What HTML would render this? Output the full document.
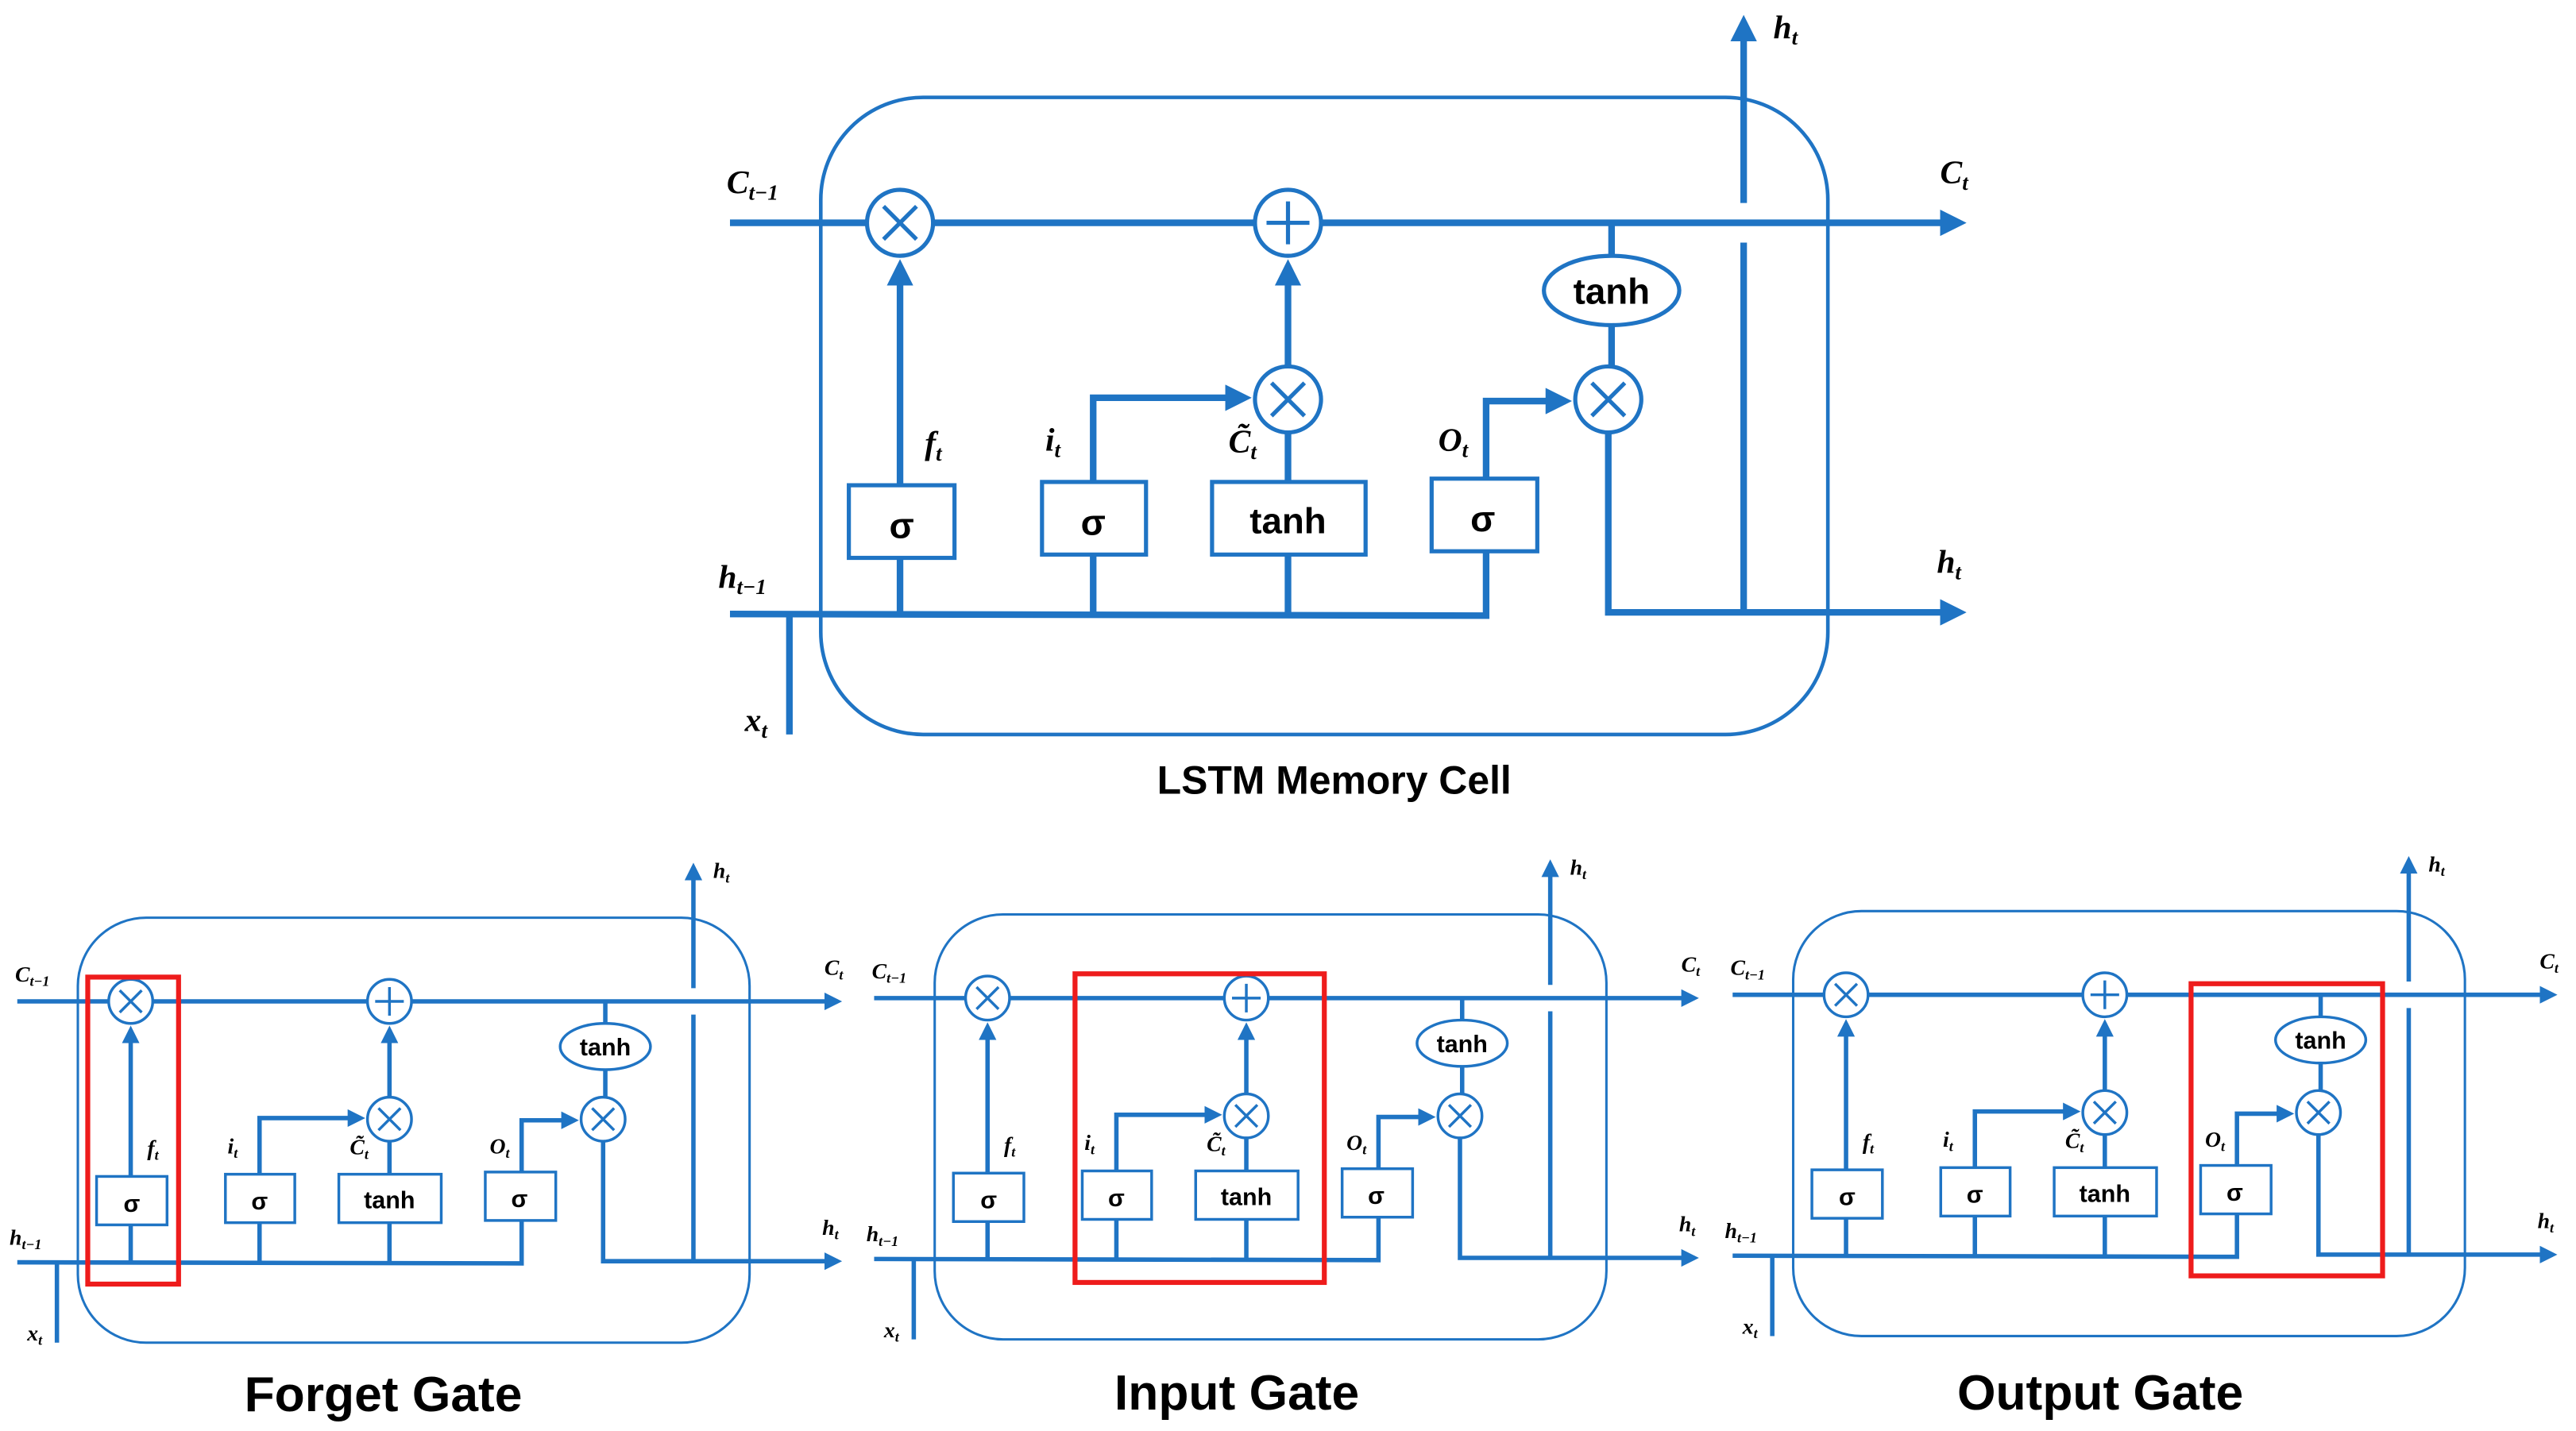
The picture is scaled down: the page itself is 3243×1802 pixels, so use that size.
<!DOCTYPE html>
<html><head><meta charset="utf-8"><style>
html,body{margin:0;padding:0;background:#fff;}
svg{display:block;}
.ln{stroke:#1f74c4;stroke-width:4;fill:none;}
.cell{stroke:#1f74c4;stroke-width:2.2;fill:none;}
.bx{stroke:#1f74c4;stroke-width:2.5;fill:#fff;}
.op{stroke:#1f74c4;stroke-width:2.5;fill:#fff;}
.sym{stroke:#1f74c4;stroke-width:2.5;}
.t{font-family:"Liberation Sans",sans-serif;font-weight:bold;fill:#000;text-anchor:middle;}
.m{font-family:"Liberation Serif",serif;font-style:italic;font-weight:bold;fill:#000;}
</style></head><body>
<svg width="3243" height="1802" viewBox="0 0 1560 867" xmlns="http://www.w3.org/2000/svg">
<defs>
<marker id="a" markerWidth="4" markerHeight="4" refX="3" refY="2" orient="auto"><path d="M0,0 L4,2 L0,4 z" fill="#1f74c4"/></marker>
</defs>

<!-- TOP CELL -->
<g transform="translate(-3,-1)">
<rect class="cell" x="500" y="60" width="610" height="386" rx="62"/>
<line class="ln" x1="445" y1="136" x2="1190" y2="136" marker-end="url(#a)"/>
<line class="ln" x1="1059" y1="372" x2="1059" y2="148"/>
<line class="ln" x1="1059" y1="124" x2="1059" y2="14" marker-end="url(#a)"/>
<polyline class="ln" points="445,373 903,374 903,335"/>
<line class="ln" x1="481" y1="373" x2="481" y2="446"/>
<line class="ln" x1="548" y1="373" x2="548" y2="339"/>
<line class="ln" x1="665" y1="373" x2="665" y2="337"/>
<line class="ln" x1="783" y1="373" x2="783" y2="337"/>
<polyline class="ln" points="977,263 977,372 1190,372" marker-end="url(#a)"/>
<line class="ln" x1="548" y1="295" x2="548" y2="162" marker-end="url(#a)"/>
<polyline class="ln" points="665,293 665,242 757,242" marker-end="url(#a)"/>
<line class="ln" x1="783" y1="293" x2="783" y2="263"/>
<line class="ln" x1="783" y1="223" x2="783" y2="162" marker-end="url(#a)"/>
<polyline class="ln" points="903,291 903,244 951,244" marker-end="url(#a)"/>
<line class="ln" x1="979" y1="136" x2="979" y2="223"/>
<rect class="bx" x="517" y="295" width="64" height="44"/>
<rect class="bx" x="634" y="293" width="63" height="44"/>
<rect class="bx" x="737" y="293" width="93" height="44"/>
<rect class="bx" x="870" y="291" width="64" height="44"/>
<ellipse class="op" cx="979" cy="177" rx="41" ry="21"/>
<circle class="op" cx="548" cy="136" r="20"/><path class="sym" d="M538,126 L558,146 M558,126 L538,146"/>
<circle class="op" cx="783" cy="136" r="20"/><path class="sym" d="M770,136 L796,136 M783,123 L783,149"/>
<circle class="op" cx="783" cy="243" r="20"/><path class="sym" d="M773,233 L793,253 M793,233 L773,253"/>
<circle class="op" cx="977" cy="243" r="20"/><path class="sym" d="M967,233 L987,253 M987,233 L967,253"/>
<text class="t" x="549" y="327" font-size="22">σ</text>
<text class="t" x="665" y="325" font-size="22">σ</text>
<text class="t" x="783" y="324" font-size="22">tanh</text>
<text class="t" x="901" y="323" font-size="22">σ</text>
<text class="t" x="979" y="185" font-size="22">tanh</text>
<text class="m" x="443" y="118" font-size="20">C<tspan font-size="13" dy="4">t−1</tspan></text>
<text class="m" x="1178" y="112" font-size="20">C<tspan font-size="13" dy="4">t</tspan></text>
<text class="m" x="1077" y="24" font-size="20">h<tspan font-size="13" dy="4">t</tspan></text>
<text class="m" x="1176" y="348" font-size="20">h<tspan font-size="13" dy="4">t</tspan></text>
<text class="m" x="438" y="357" font-size="20">h<tspan font-size="13" dy="4">t−1</tspan></text>
<text class="m" x="454" y="444" font-size="20">x<tspan font-size="13" dy="4">t</tspan></text>
<text class="m" x="563" y="276" font-size="20">f<tspan font-size="13" dy="4">t</tspan></text>
<text class="m" x="636" y="274" font-size="20">i<tspan font-size="13" dy="4">t</tspan></text>
<text class="m" x="747" y="275" font-size="20">C̃<tspan font-size="13" dy="4">t</tspan></text>
<text class="m" x="874" y="274" font-size="20">O<tspan font-size="13" dy="4">t</tspan></text>
</g>
<text class="t" x="808" y="481" font-size="24">LSTM Memory Cell</text>

<!-- FORGET -->
<g transform="translate(-286.5,516) scale(0.667)">
<rect class="cell" x="500" y="60" width="610" height="386" rx="62"/>
<line class="ln" x1="445" y1="136" x2="1190" y2="136" marker-end="url(#a)"/>
<line class="ln" x1="1059" y1="372" x2="1059" y2="148"/>
<line class="ln" x1="1059" y1="124" x2="1059" y2="14" marker-end="url(#a)"/>
<polyline class="ln" points="445,373 903,374 903,335"/>
<line class="ln" x1="481" y1="373" x2="481" y2="446"/>
<line class="ln" x1="548" y1="373" x2="548" y2="339"/>
<line class="ln" x1="665" y1="373" x2="665" y2="337"/>
<line class="ln" x1="783" y1="373" x2="783" y2="337"/>
<polyline class="ln" points="977,263 977,372 1190,372" marker-end="url(#a)"/>
<line class="ln" x1="548" y1="295" x2="548" y2="162" marker-end="url(#a)"/>
<polyline class="ln" points="665,293 665,242 757,242" marker-end="url(#a)"/>
<line class="ln" x1="783" y1="293" x2="783" y2="263"/>
<line class="ln" x1="783" y1="223" x2="783" y2="162" marker-end="url(#a)"/>
<polyline class="ln" points="903,291 903,244 951,244" marker-end="url(#a)"/>
<line class="ln" x1="979" y1="136" x2="979" y2="223"/>
<rect class="bx" x="517" y="295" width="64" height="44"/>
<rect class="bx" x="634" y="293" width="63" height="44"/>
<rect class="bx" x="737" y="293" width="93" height="44"/>
<rect class="bx" x="870" y="291" width="64" height="44"/>
<ellipse class="op" cx="979" cy="177" rx="41" ry="21"/>
<circle class="op" cx="548" cy="136" r="20"/><path class="sym" d="M538,126 L558,146 M558,126 L538,146"/>
<circle class="op" cx="783" cy="136" r="20"/><path class="sym" d="M770,136 L796,136 M783,123 L783,149"/>
<circle class="op" cx="783" cy="243" r="20"/><path class="sym" d="M773,233 L793,253 M793,233 L773,253"/>
<circle class="op" cx="977" cy="243" r="20"/><path class="sym" d="M967,233 L987,253 M987,233 L967,253"/>
<text class="t" x="549" y="327" font-size="22">σ</text>
<text class="t" x="665" y="325" font-size="22">σ</text>
<text class="t" x="783" y="324" font-size="22">tanh</text>
<text class="t" x="901" y="323" font-size="22">σ</text>
<text class="t" x="979" y="185" font-size="22">tanh</text>
<text class="m" x="443" y="118" font-size="20">C<tspan font-size="13" dy="4">t−1</tspan></text>
<text class="m" x="1178" y="112" font-size="20">C<tspan font-size="13" dy="4">t</tspan></text>
<text class="m" x="1077" y="24" font-size="20">h<tspan font-size="13" dy="4">t</tspan></text>
<text class="m" x="1176" y="348" font-size="20">h<tspan font-size="13" dy="4">t</tspan></text>
<text class="m" x="438" y="357" font-size="20">h<tspan font-size="13" dy="4">t−1</tspan></text>
<text class="m" x="454" y="444" font-size="20">x<tspan font-size="13" dy="4">t</tspan></text>
<text class="m" x="563" y="276" font-size="20">f<tspan font-size="13" dy="4">t</tspan></text>
<text class="m" x="636" y="274" font-size="20">i<tspan font-size="13" dy="4">t</tspan></text>
<text class="m" x="747" y="275" font-size="20">C̃<tspan font-size="13" dy="4">t</tspan></text>
<text class="m" x="874" y="274" font-size="20">O<tspan font-size="13" dy="4">t</tspan></text>
</g>

<!-- INPUT -->
<g transform="translate(232.5,514) scale(0.667)">
<rect class="cell" x="500" y="60" width="610" height="386" rx="62"/>
<line class="ln" x1="445" y1="136" x2="1190" y2="136" marker-end="url(#a)"/>
<line class="ln" x1="1059" y1="372" x2="1059" y2="148"/>
<line class="ln" x1="1059" y1="124" x2="1059" y2="14" marker-end="url(#a)"/>
<polyline class="ln" points="445,373 903,374 903,335"/>
<line class="ln" x1="481" y1="373" x2="481" y2="446"/>
<line class="ln" x1="548" y1="373" x2="548" y2="339"/>
<line class="ln" x1="665" y1="373" x2="665" y2="337"/>
<line class="ln" x1="783" y1="373" x2="783" y2="337"/>
<polyline class="ln" points="977,263 977,372 1190,372" marker-end="url(#a)"/>
<line class="ln" x1="548" y1="295" x2="548" y2="162" marker-end="url(#a)"/>
<polyline class="ln" points="665,293 665,242 757,242" marker-end="url(#a)"/>
<line class="ln" x1="783" y1="293" x2="783" y2="263"/>
<line class="ln" x1="783" y1="223" x2="783" y2="162" marker-end="url(#a)"/>
<polyline class="ln" points="903,291 903,244 951,244" marker-end="url(#a)"/>
<line class="ln" x1="979" y1="136" x2="979" y2="223"/>
<rect class="bx" x="517" y="295" width="64" height="44"/>
<rect class="bx" x="634" y="293" width="63" height="44"/>
<rect class="bx" x="737" y="293" width="93" height="44"/>
<rect class="bx" x="870" y="291" width="64" height="44"/>
<ellipse class="op" cx="979" cy="177" rx="41" ry="21"/>
<circle class="op" cx="548" cy="136" r="20"/><path class="sym" d="M538,126 L558,146 M558,126 L538,146"/>
<circle class="op" cx="783" cy="136" r="20"/><path class="sym" d="M770,136 L796,136 M783,123 L783,149"/>
<circle class="op" cx="783" cy="243" r="20"/><path class="sym" d="M773,233 L793,253 M793,233 L773,253"/>
<circle class="op" cx="977" cy="243" r="20"/><path class="sym" d="M967,233 L987,253 M987,233 L967,253"/>
<text class="t" x="549" y="327" font-size="22">σ</text>
<text class="t" x="665" y="325" font-size="22">σ</text>
<text class="t" x="783" y="324" font-size="22">tanh</text>
<text class="t" x="901" y="323" font-size="22">σ</text>
<text class="t" x="979" y="185" font-size="22">tanh</text>
<text class="m" x="443" y="118" font-size="20">C<tspan font-size="13" dy="4">t−1</tspan></text>
<text class="m" x="1178" y="112" font-size="20">C<tspan font-size="13" dy="4">t</tspan></text>
<text class="m" x="1077" y="24" font-size="20">h<tspan font-size="13" dy="4">t</tspan></text>
<text class="m" x="1176" y="348" font-size="20">h<tspan font-size="13" dy="4">t</tspan></text>
<text class="m" x="438" y="357" font-size="20">h<tspan font-size="13" dy="4">t−1</tspan></text>
<text class="m" x="454" y="444" font-size="20">x<tspan font-size="13" dy="4">t</tspan></text>
<text class="m" x="563" y="276" font-size="20">f<tspan font-size="13" dy="4">t</tspan></text>
<text class="m" x="636" y="274" font-size="20">i<tspan font-size="13" dy="4">t</tspan></text>
<text class="m" x="747" y="275" font-size="20">C̃<tspan font-size="13" dy="4">t</tspan></text>
<text class="m" x="874" y="274" font-size="20">O<tspan font-size="13" dy="4">t</tspan></text>
</g>

<!-- OUTPUT -->
<g transform="translate(752.5,512) scale(0.667)">
<rect class="cell" x="500" y="60" width="610" height="386" rx="62"/>
<line class="ln" x1="445" y1="136" x2="1190" y2="136" marker-end="url(#a)"/>
<line class="ln" x1="1059" y1="372" x2="1059" y2="148"/>
<line class="ln" x1="1059" y1="124" x2="1059" y2="14" marker-end="url(#a)"/>
<polyline class="ln" points="445,373 903,374 903,335"/>
<line class="ln" x1="481" y1="373" x2="481" y2="446"/>
<line class="ln" x1="548" y1="373" x2="548" y2="339"/>
<line class="ln" x1="665" y1="373" x2="665" y2="337"/>
<line class="ln" x1="783" y1="373" x2="783" y2="337"/>
<polyline class="ln" points="977,263 977,372 1190,372" marker-end="url(#a)"/>
<line class="ln" x1="548" y1="295" x2="548" y2="162" marker-end="url(#a)"/>
<polyline class="ln" points="665,293 665,242 757,242" marker-end="url(#a)"/>
<line class="ln" x1="783" y1="293" x2="783" y2="263"/>
<line class="ln" x1="783" y1="223" x2="783" y2="162" marker-end="url(#a)"/>
<polyline class="ln" points="903,291 903,244 951,244" marker-end="url(#a)"/>
<line class="ln" x1="979" y1="136" x2="979" y2="223"/>
<rect class="bx" x="517" y="295" width="64" height="44"/>
<rect class="bx" x="634" y="293" width="63" height="44"/>
<rect class="bx" x="737" y="293" width="93" height="44"/>
<rect class="bx" x="870" y="291" width="64" height="44"/>
<ellipse class="op" cx="979" cy="177" rx="41" ry="21"/>
<circle class="op" cx="548" cy="136" r="20"/><path class="sym" d="M538,126 L558,146 M558,126 L538,146"/>
<circle class="op" cx="783" cy="136" r="20"/><path class="sym" d="M770,136 L796,136 M783,123 L783,149"/>
<circle class="op" cx="783" cy="243" r="20"/><path class="sym" d="M773,233 L793,253 M793,233 L773,253"/>
<circle class="op" cx="977" cy="243" r="20"/><path class="sym" d="M967,233 L987,253 M987,233 L967,253"/>
<text class="t" x="549" y="327" font-size="22">σ</text>
<text class="t" x="665" y="325" font-size="22">σ</text>
<text class="t" x="783" y="324" font-size="22">tanh</text>
<text class="t" x="901" y="323" font-size="22">σ</text>
<text class="t" x="979" y="185" font-size="22">tanh</text>
<text class="m" x="443" y="118" font-size="20">C<tspan font-size="13" dy="4">t−1</tspan></text>
<text class="m" x="1178" y="112" font-size="20">C<tspan font-size="13" dy="4">t</tspan></text>
<text class="m" x="1077" y="24" font-size="20">h<tspan font-size="13" dy="4">t</tspan></text>
<text class="m" x="1176" y="348" font-size="20">h<tspan font-size="13" dy="4">t</tspan></text>
<text class="m" x="438" y="357" font-size="20">h<tspan font-size="13" dy="4">t−1</tspan></text>
<text class="m" x="454" y="444" font-size="20">x<tspan font-size="13" dy="4">t</tspan></text>
<text class="m" x="563" y="276" font-size="20">f<tspan font-size="13" dy="4">t</tspan></text>
<text class="m" x="636" y="274" font-size="20">i<tspan font-size="13" dy="4">t</tspan></text>
<text class="m" x="747" y="275" font-size="20">C̃<tspan font-size="13" dy="4">t</tspan></text>
<text class="m" x="874" y="274" font-size="20">O<tspan font-size="13" dy="4">t</tspan></text>
</g>

<!-- red highlights -->
<rect x="53" y="592" width="55" height="186" fill="none" stroke="#ee1c1c" stroke-width="3"/>
<rect x="651" y="590" width="151" height="187" fill="none" stroke="#ee1c1c" stroke-width="3"/>
<rect x="1327" y="596" width="116" height="177" fill="none" stroke="#ee1c1c" stroke-width="3"/>

<text class="t" x="232" y="855" font-size="30">Forget Gate</text>
<text class="t" x="749" y="854" font-size="30">Input Gate</text>
<text class="t" x="1272" y="854" font-size="30">Output Gate</text>
</svg>
</body></html>
